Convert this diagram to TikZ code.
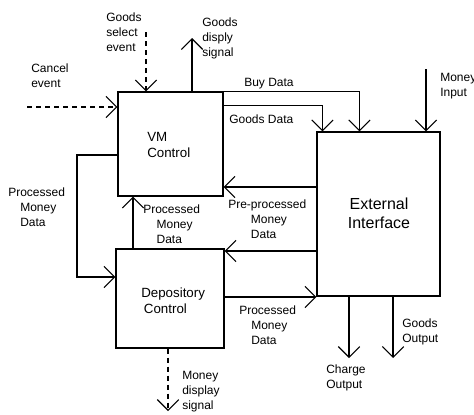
\documentclass[tikz,border=0pt]{standalone}
\usepackage{fontspec}
\setmainfont{Liberation Sans}
\usetikzlibrary{arrows.meta, calc}
\tikzset{
	myblock/.style={rectangle, draw=black, line width=0.9pt, inner sep=0pt
				},
	myblocktext/.style={inner sep=0pt, align=left, font=\fontsize{10}{12}\selectfont
				},
	mylabel/.style={inner sep=0pt, align=left, anchor=north west, font=\fontsize{9}{11.25}\selectfont
				},
	myarrow/.style={-{Straight Barb[length=8pt, width=16pt, line width=0.8pt]}, black, line width=0.8pt
				},
	mydasharrow/.style={myarrow, dash pattern=on 3.75pt off 3pt
				}
	}

\begin{document}
\begin{tikzpicture}[x=0.75pt, y=-0.75pt]

				\useasboundingbox (0,0) rectangle (474,414);

				% the three blocks
				\node[myblock, minimum width=105*0.75pt, minimum height=104*0.75pt] (vm) at (170.5,144) {};
				\node[myblock, minimum width=108*0.75pt, minimum height=99*0.75pt] (dep) at (170,298.5) {};
				\node[myblock, minimum width=123*0.75pt, minimum height=164*0.75pt] (ext) at (378.5,214) {};

				\node[myblocktext, anchor=north west] (vmt) at (147,132) {VM\\Control};
				\node[myblocktext, anchor=north west] (dept) at (141,288) {Depository\\\hspace*{2pt}Control};
				\node[myblocktext, anchor=north, align=center, font=\fontsize{12}{14.25}\selectfont] (extt) at (379,198) {External\\Interface};

				% free ends
				\coordinate (cancel) at (27,107);
				\coordinate (select) at (146,32);
				\coordinate (display) at (192,38);
				\coordinate (moneyin) at (426,69);
				\coordinate (loopcorner) at (77,277);
				\coordinate (moneydisp) at (168,411);
				\coordinate (charge) at (349,358);
				\coordinate (goodsout) at (393,358);

				% events into VM control
				\draw[mydasharrow] (cancel) -- (cancel -| vm.west);
				\draw[mydasharrow] (select) -- (select |- vm.north);
				\draw[myarrow] (display |- vm.north) -- (display);

				% VM control <-> external interface
				\draw[myarrow] (vm.north east) -| ($(ext.north west)+(43,0)$);
				\draw[myarrow] ($(vm.north east)+(0,14)$) -| ($(ext.north west)+(6,0)$);
				\draw[myarrow] (moneyin) -- (moneyin |- ext.north);
				\draw[myarrow] (ext.west |- 0,187) -- (vm.east |- 0,187);

				% depository <-> external interface
				\draw[myarrow] (ext.west |- 0,251) -- (dep.east |- 0,251);
				\draw[myarrow] (dep.east |- 0,297) -- (ext.west |- 0,297);

				% between VM control and depository
				\draw[myarrow] (dep.north -| 133,0) -- (vm.south -| 133,0);
				\draw[myarrow] (vm.west |- 0,155) -| (loopcorner) -- (loopcorner -| dep.west);

				% outputs
				\draw[mydasharrow] (moneydisp |- dep.south) -- (moneydisp);
				\draw[myarrow] (charge |- ext.south) -- (charge);
				\draw[myarrow] (goodsout |- ext.south) -- (goodsout);

				% labels
				\node[mylabel] (selectt) at (106,13) {Goods\\select\\event};
				\node[mylabel] (displayt) at (202,18) {Goods\\disply\\signal};
				\node[mylabel] (cancelt) at (31,64) {Cancel\\event};
				\node[mylabel] (buyt) at (244,78) {Buy Data};
				\node[mylabel] (goodst) at (229,115) {Goods Data};
				\node[mylabel] (moneyint) at (440,73) {Money\\Input};
				\node[mylabel] (preproct) at (228,200) {Pre-processed\\\hspace*{17pt}Money\\\hspace*{17pt}Data};
				\node[mylabel] (loopt) at (8,188) {Processed\\\hspace*{9pt}Money\\\hspace*{9pt}Data};
				\node[mylabel] (upt) at (143,205) {Processed\\\hspace*{10pt}Money\\\hspace*{10pt}Data};
				\node[mylabel] (proct) at (239,306) {Processed\\\hspace*{9pt}Money\\\hspace*{9pt}Data};
				\node[mylabel] (moneydispt) at (182,371) {Money\\display\\signal};
				\node[mylabel] (charget) at (326,365) {Charge\\Output};
				\node[mylabel] (goodsoutt) at (402,319) {Goods\\Output};

	\end{tikzpicture}
\end{document}
